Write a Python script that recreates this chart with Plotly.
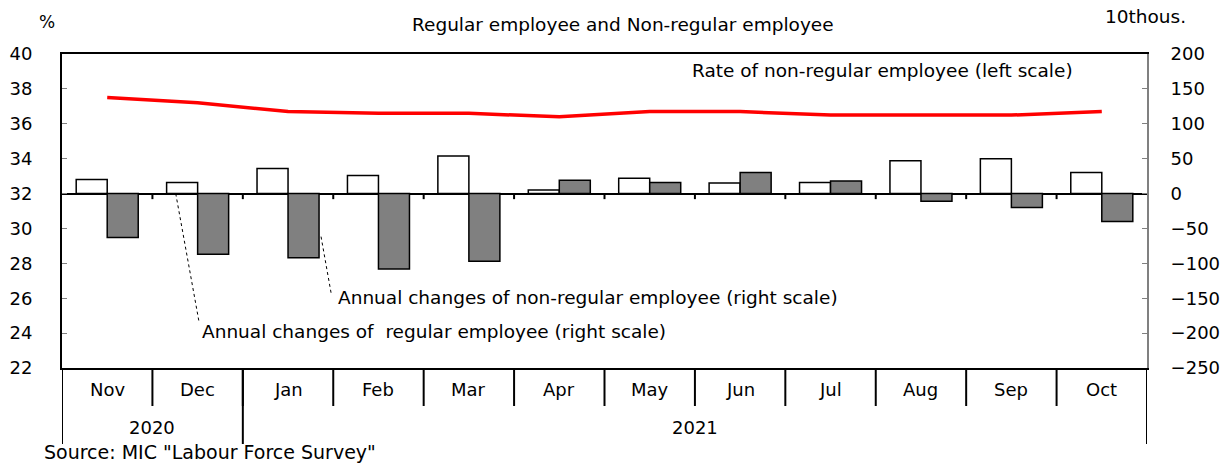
import plotly.graph_objects as go

months = ["Nov", "Dec", "Jan", "Feb", "Mar", "Apr", "May", "Jun", "Jul", "Aug", "Sep", "Oct"]
years = [("2020", 0, 1), ("2021", 2, 11)]
rate_nonregular = [37.5, 37.2, 36.7, 36.6, 36.6, 36.4, 36.7, 36.7, 36.5, 36.5, 36.5, 36.7]
chg_regular = [20, 16, 36, 26, 54, 5, 22, 15, 16, 47, 50, 30]
chg_nonregular = [-63, -87, -92, -108, -97, 19, 16, 30, 18, -11, -20, -40]

FONT = "DejaVu Sans"
x = list(range(len(months)))

fig = go.Figure()
fig.add_trace(go.Bar(x=x, y=chg_regular, yaxis="y2", marker=dict(color="white", line=dict(color="black", width=1.5)),
                     name="Annual changes of regular employee"))
fig.add_trace(go.Bar(x=x, y=chg_nonregular, yaxis="y2", marker=dict(color="#808080", line=dict(color="black", width=1.5)),
                     name="Annual changes of non-regular employee"))
fig.add_trace(go.Scatter(x=x, y=rate_nonregular, yaxis="y", mode="lines", line=dict(color="#ff0000", width=3.5),
                         name="Rate of non-regular employee"))

shapes = []
# small ticks on zero line at category boundaries
for i in range(len(months) - 1):
    shapes.append(dict(type="line", xref="x", yref="y2", x0=i + 0.5, x1=i + 0.5, y0=0, y1=-8,
                       line=dict(color="black", width=2)))
# month separators below plot
for i in range(len(months) - 1):
    shapes.append(dict(type="line", xref="x", yref="paper", x0=i + 0.5, x1=i + 0.5, y0=0, y1=-0.121,
                       line=dict(color="black", width=2)))
# year separators
for xb in [-0.5, 1.5, 11.5]:
    shapes.append(dict(type="line", xref="x", yref="paper", x0=xb, x1=xb, y0=0, y1=-0.242,
                       line=dict(color="black", width=2)))
# leader lines
shapes.append(dict(type="line", xref="x", yref="y2", x0=0.758, y0=0, x1=1.015, y1=-183.5,
                   line=dict(color="black", width=1, dash="dot")))
shapes.append(dict(type="line", xref="x", yref="y2", x0=2.365, y0=-61.7, x1=2.476, y1=-142.4,
                   line=dict(color="black", width=1, dash="dot")))

TS = 18.5
annotations = []
for i, m in enumerate(months):
    annotations.append(dict(x=i, y=-0.0669, xref="x", yref="paper", text=m, showarrow=False,
                            font=dict(size=18, color="black", family=FONT), xanchor="center", yanchor="middle"))
for label, a, b in years:
    annotations.append(dict(x=(a + b) / 2, y=-0.188, xref="x", yref="paper", text=label, showarrow=False,
                            font=dict(size=18, color="black", family=FONT), xanchor="center", yanchor="middle"))
annotations += [
    dict(x=0.517, y=1.0955, xref="paper", yref="paper", text="Regular employee and Non-regular employee",
         showarrow=False, font=dict(size=TS, family=FONT, color="black"), xanchor="center", yanchor="middle"),
    dict(x=-0.0138, y=1.102, xref="paper", yref="paper", text="%", showarrow=False,
         font=dict(size=17, family=FONT, color="black"), xanchor="center", yanchor="middle"),
    dict(x=0.9986, y=1.118, xref="paper", yref="paper", text="10thous.", showarrow=False,
         font=dict(size=TS, family=FONT, color="black"), xanchor="center", yanchor="middle"),
    dict(x=-0.0184, y=-0.2675, xref="paper", yref="paper", text='Source: MIC "Labour Force Survey"',
         showarrow=False, xanchor="left", yanchor="middle", font=dict(size=19, family=FONT, color="black")),
    dict(x=6.447, y=39.08, xref="x", yref="y", text="Rate of non-regular employee (left scale)",
         showarrow=False, xanchor="left", yanchor="middle", font=dict(size=TS, family=FONT, color="black")),
    dict(x=2.531, y=-149.6, xref="x", yref="y2", text="Annual changes of non-regular employee (right scale)",
         showarrow=False, xanchor="left", yanchor="middle", font=dict(size=TS, family=FONT, color="black")),
    dict(x=1.027, y=-197, xref="x", yref="y2", text="Annual changes of\u00a0 regular employee (right scale)",
         showarrow=False, xanchor="left", yanchor="middle", font=dict(size=TS, family=FONT, color="black")),
]

fig.update_layout(
    width=1221, height=464,
    margin=dict(l=62, r=74, t=54, b=96, autoexpand=False),
    paper_bgcolor="white", plot_bgcolor="white",
    showlegend=False,
    barmode="group", bargap=0.314, bargroupgap=0,
    font=dict(family=FONT, size=16, color="black"),
    xaxis=dict(range=[-0.5, 11.5], showticklabels=False, ticks="", showgrid=False, zeroline=False,
               showline=True, linecolor="black", linewidth=2, mirror=True),
    yaxis=dict(range=[22, 40], dtick=2, ticks="inside", ticklen=5, tickcolor="#808080", tickwidth=1,
               showgrid=False, zeroline=False, showline=True, linecolor="black", linewidth=2,
               ticklabelstandoff=24, tickfont=dict(size=18, family=FONT, color="black")),
    yaxis2=dict(range=[-250, 200], dtick=50, overlaying="y", side="right", ticks="inside", ticklen=5,
                tickcolor="#808080", tickwidth=1, showgrid=False, zeroline=True, zerolinecolor="black",
                zerolinewidth=2, showline=True, linecolor="#808080", linewidth=2,
                ticklabelstandoff=18, tickfont=dict(size=18, family=FONT, color="black")),
    shapes=shapes,
    annotations=annotations,
)

fig.write_html("out.html", config={"displayModeBar": False},
               post_script="document.body.style.margin='0';document.body.style.overflow='hidden';")
